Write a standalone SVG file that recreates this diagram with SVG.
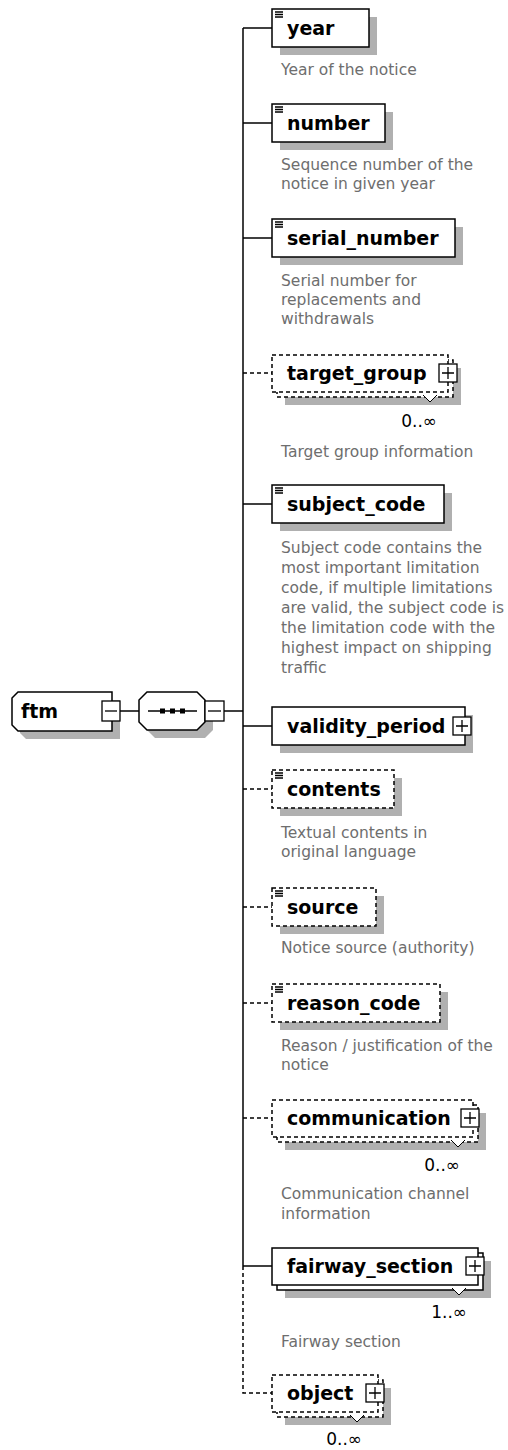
<svg xmlns="http://www.w3.org/2000/svg" width="508" height="1450" viewBox="0 0 508 1450">
<style>
.shadow{fill:#b0b0b0;stroke:none}
.box{fill:#fff;stroke:#000;stroke-width:1.5}
.opt{fill:#fff;stroke:#000;stroke-width:1.5;stroke-dasharray:4,3}
.icon{stroke:#000;stroke-width:1.3;fill:none}
.label{font-family:"DejaVu Sans",sans-serif;font-weight:bold;font-size:19px;fill:#000}
.desc{font-family:"DejaVu Sans",sans-serif;font-size:15.5px;fill:#6e6e6e}
.mult{font-family:"DejaVu Sans",sans-serif;font-size:17px;fill:#000;text-anchor:end}
.line{stroke:#000;stroke-width:1.5;fill:none}
.dline{stroke:#000;stroke-width:1.5;fill:none;stroke-dasharray:4,3}
.btn{fill:#fff;stroke:#000;stroke-width:1.3}
.v{fill:#fff;stroke:#000;stroke-width:1}
</style>
<rect width="508" height="1450" fill="#fff"/>
<g id="connectors">
<line class="line" x1="120" y1="711" x2="139" y2="711"/>
<line class="line" x1="224" y1="711" x2="243" y2="711"/>
<line class="line" x1="243" y1="28" x2="243" y2="1266"/>
<path class="dline" d="M243 1266V1393H272"/>
<line class="line" x1="243" y1="28" x2="272" y2="28"/>
<line class="line" x1="243" y1="123" x2="272" y2="123"/>
<line class="line" x1="243" y1="238" x2="272" y2="238"/>
<line class="dline" x1="243" y1="373" x2="272" y2="373"/>
<line class="line" x1="243" y1="504" x2="272" y2="504"/>
<line class="line" x1="243" y1="726" x2="272" y2="726"/>
<line class="dline" x1="243" y1="789" x2="272" y2="789"/>
<line class="dline" x1="243" y1="907" x2="272" y2="907"/>
<line class="dline" x1="243" y1="1003" x2="272" y2="1003"/>
<line class="dline" x1="243" y1="1118" x2="272" y2="1118"/>
<line class="line" x1="243" y1="1266" x2="272" y2="1266"/>
</g>
<g id="ftm">
<polygon class="shadow" points="26,700 120,700 120,739 26,739 20,733 20,706"/>
<polygon class="box" points="18,692 112,692 112,731 18,731 12,725 12,698"/>
<text class="label" x="21" y="718">ftm</text>
<rect class="btn" x="102" y="701" width="18" height="20"/>
<line class="icon" x1="105" y1="711" x2="117" y2="711"/>
</g>
<g id="sequence">
<polygon class="shadow" points="155,700 205,700 213,708 213,730 205,738 155,738 147,730 147,708"/>
<polygon class="box" points="147,692 197,692 205,700 205,722 197,730 147,730 139,722 139,700"/>
<line class="icon" x1="148" y1="711" x2="197" y2="711"/>
<rect x="160" y="708.5" width="5" height="5" fill="#000"/>
<rect x="170" y="708.5" width="5" height="5" fill="#000"/>
<rect x="180" y="708.5" width="5" height="5" fill="#000"/>
<rect class="btn" x="205" y="701" width="19" height="20"/>
<line class="icon" x1="208" y1="711" x2="221" y2="711"/>
</g>
<g id="year">
<rect class="shadow" x="280" y="17" width="97" height="38"/>
<rect class="box" x="272" y="9" width="97" height="38"/>
<path class="icon" d="M275 12h8M275 14.5h8M275 17h8"/>
<text class="label" x="287" y="35">year</text>
<text class="desc" x="281" y="75">Year of the notice</text>
</g>
<g id="number">
<rect class="shadow" x="280" y="112" width="113" height="38"/>
<rect class="box" x="272" y="104" width="113" height="38"/>
<path class="icon" d="M275 107h8M275 109.5h8M275 112h8"/>
<text class="label" x="287" y="130">number</text>
<text class="desc" x="281" y="170">Sequence number of the</text>
<text class="desc" x="281" y="189">notice in given year</text>
</g>
<g id="serial_number">
<rect class="shadow" x="280" y="227" width="183" height="38"/>
<rect class="box" x="272" y="219" width="183" height="38"/>
<path class="icon" d="M275 222h8M275 224.5h8M275 227h8"/>
<text class="label" x="287" y="245">serial_number</text>
<text class="desc" x="281" y="286">Serial number for</text>
<text class="desc" x="281" y="305">replacements and</text>
<text class="desc" x="281" y="324">withdrawals</text>
</g>
<g id="target_group">
<rect class="shadow" x="285" y="368" width="176" height="37"/>
<rect class="opt" x="277" y="360" width="176" height="37"/>
<rect class="opt" x="272" y="355" width="176" height="37"/>
<text class="label" x="287" y="380">target_group</text>
<rect class="btn" x="439" y="364" width="18" height="18"/>
<path class="icon" d="M442 373h12M448 367v12"/>
<polyline class="v" points="423,395 430,402 437,395"/>
<text class="mult" x="437" y="427">0..∞</text>
<text class="desc" x="281" y="457">Target group information</text>
</g>
<g id="subject_code">
<rect class="shadow" x="280" y="493" width="172" height="38"/>
<rect class="box" x="272" y="485" width="172" height="38"/>
<path class="icon" d="M275 488h8M275 490.5h8M275 493h8"/>
<text class="label" x="287" y="511">subject_code</text>
<text class="desc" x="281" y="553">Subject code contains the</text>
<text class="desc" x="281" y="573">most important limitation</text>
<text class="desc" x="281" y="593">code, if multiple limitations</text>
<text class="desc" x="281" y="613">are valid, the subject code is</text>
<text class="desc" x="281" y="633">the limitation code with the</text>
<text class="desc" x="281" y="653">highest impact on shipping</text>
<text class="desc" x="281" y="673">traffic</text>
</g>
<g id="validity_period">
<rect class="shadow" x="280" y="715" width="193" height="38"/>
<rect class="box" x="272" y="707" width="193" height="38"/>
<text class="label" x="287" y="733">validity_period</text>
<rect class="btn" x="453" y="717" width="18" height="18"/>
<path class="icon" d="M456 726h12M462 720v12"/>
</g>
<g id="contents">
<rect class="shadow" x="280" y="778" width="122" height="38"/>
<rect class="opt" x="272" y="770" width="122" height="38"/>
<path class="icon" d="M275 773h8M275 775.5h8M275 778h8"/>
<text class="label" x="287" y="796">contents</text>
<text class="desc" x="281" y="838">Textual contents in</text>
<text class="desc" x="281" y="857">original language</text>
</g>
<g id="source">
<rect class="shadow" x="280" y="896" width="104" height="38"/>
<rect class="opt" x="272" y="888" width="104" height="38"/>
<path class="icon" d="M275 891h8M275 893.5h8M275 896h8"/>
<text class="label" x="287" y="914">source</text>
<text class="desc" x="281" y="953">Notice source (authority)</text>
</g>
<g id="reason_code">
<rect class="shadow" x="280" y="992" width="168" height="38"/>
<rect class="opt" x="272" y="984" width="168" height="38"/>
<path class="icon" d="M275 987h8M275 989.5h8M275 992h8"/>
<text class="label" x="287" y="1010">reason_code</text>
<text class="desc" x="281" y="1051">Reason / justification of the</text>
<text class="desc" x="281" y="1070">notice</text>
</g>
<g id="communication">
<rect class="shadow" x="285" y="1113" width="201" height="37"/>
<rect class="opt" x="277" y="1105" width="201" height="37"/>
<rect class="opt" x="272" y="1100" width="201" height="37"/>
<text class="label" x="287" y="1125">communication</text>
<rect class="btn" x="461" y="1109" width="18" height="18"/>
<path class="icon" d="M464 1118h12M470 1112v12"/>
<polyline class="v" points="451,1140 458,1147 465,1140"/>
<text class="mult" x="460" y="1171">0..∞</text>
<text class="desc" x="281" y="1199">Communication channel</text>
<text class="desc" x="281" y="1219">information</text>
</g>
<g id="fairway_section">
<rect class="shadow" x="285" y="1261" width="206" height="37"/>
<rect class="box" x="277" y="1253" width="206" height="37"/>
<rect class="box" x="272" y="1248" width="206" height="37"/>
<text class="label" x="287" y="1273">fairway_section</text>
<rect class="btn" x="466" y="1257" width="18" height="18"/>
<path class="icon" d="M469 1266h12M475 1260v12"/>
<polyline class="v" points="452,1288 459,1295 466,1288"/>
<text class="mult" x="467" y="1318">1..∞</text>
<text class="desc" x="281" y="1347">Fairway section</text>
</g>
<g id="object">
<rect class="shadow" x="285" y="1388" width="106" height="37"/>
<rect class="opt" x="277" y="1380" width="106" height="37"/>
<rect class="opt" x="272" y="1375" width="106" height="37"/>
<text class="label" x="287" y="1400">object</text>
<rect class="btn" x="366" y="1384" width="18" height="18"/>
<path class="icon" d="M369 1393h12M375 1387v12"/>
<polyline class="v" points="350,1415 357,1422 364,1415"/>
<text class="mult" x="362" y="1445">0..∞</text>
</g>
</svg>
